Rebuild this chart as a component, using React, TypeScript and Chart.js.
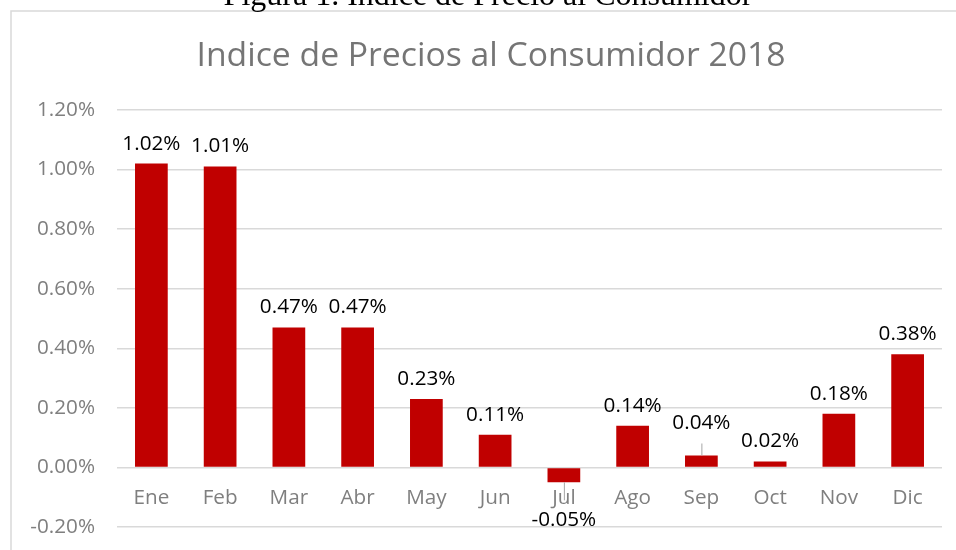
import React, { useEffect, useRef } from "react";
import { Chart, registerables } from "chart.js";

Chart.register(...registerables);

const figureCaption = "Figura 1. Indice de Precio al Consumidor";
const chartTitle = "Indice de Precios al Consumidor 2018";
const months = ["Ene", "Feb", "Mar", "Abr", "May", "Jun", "Jul", "Ago", "Sep", "Oct", "Nov", "Dic"];
const ipc = [1.02, 1.01, 0.47, 0.47, 0.23, 0.11, -0.05, 0.14, 0.04, 0.02, 0.18, 0.38];
const yTicks = [-0.2, 0, 0.2, 0.4, 0.6, 0.8, 1.0, 1.2];

const FONT = '"Open Sans", "Liberation Sans", sans-serif';
const LABEL_SIZE = 20.7;
const fmtPct = (v: number) => v.toFixed(2) + "%";

const decorPlugin = {
  id: "decor",
  beforeDraw(chart: any) {
    const ctx = chart.ctx;
    ctx.save();
    ctx.fillStyle = "#ffffff";
    ctx.fillRect(0, 0, chart.width, chart.height);
    ctx.strokeStyle = "#d9d9d9";
    ctx.lineWidth = 1.5;
    ctx.strokeRect(11, 11, chart.width + 20, chart.height + 20);
    ctx.fillStyle = "#000000";
    ctx.font = '32px "Liberation Serif", "Times New Roman", serif';
    ctx.textAlign = "center";
    ctx.textBaseline = "alphabetic";
    ctx.fillText(figureCaption, 488, 5);
    ctx.fillStyle = "#757575";
    ctx.font = "33.7px " + FONT;
    ctx.textBaseline = "middle";
    ctx.fillText(chartTitle, 491, 56);
    ctx.restore();
  },
  afterDatasetsDraw(chart: any, _args: any, opts: any) {
    const ctx = chart.ctx;
    const xs = chart.scales.x;
    const ys = chart.scales.y;
    const zeroY = ys.getPixelForValue(0);
    ctx.save();
    // category labels next to the zero line
    ctx.font = LABEL_SIZE + "px " + FONT;
    ctx.fillStyle = "#7f7f7f";
    ctx.textAlign = "center";
    ctx.textBaseline = "middle";
    months.forEach((m, i) => {
      ctx.fillText(m, xs.getPixelForValue(i), zeroY + 31);
    });
    // data labels
    const meta = chart.getDatasetMeta(0);
    const leaders = (opts && opts.leaders) || {};
    ctx.fillStyle = "#000000";
    meta.data.forEach((bar: any, i: number) => {
      const v = ipc[i];
      const extra = leaders[months[i]] || 0;
      const dir = v >= 0 ? -1 : 1;
      const cy = bar.y + dir * (20 + extra);
      ctx.fillText(fmtPct(v), bar.x, cy);
      if (extra) {
        ctx.strokeStyle = "#a6a6a6";
        ctx.lineWidth = 1;
        ctx.beginPath();
        ctx.moveTo(bar.x + 0.5, bar.y);
        ctx.lineTo(bar.x + 0.5, bar.y + dir * extra);
        ctx.stroke();
      }
    });
    ctx.restore();
  },
};

export default function App() {
  const ref = useRef<HTMLCanvasElement | null>(null);

  useEffect(() => {
    let chart: Chart | null = null;
    let cancelled = false;
    const make = () => {
      if (cancelled || !ref.current) return;
      chart = new Chart(ref.current, {
        type: "bar",
        data: {
          labels: months,
          datasets: [
            {
              data: ipc,
              backgroundColor: "#c00000",
              borderWidth: 0,
              barPercentage: 0.476,
              categoryPercentage: 1,
            },
          ],
        },
        options: {
          responsive: false,
          animation: false,
          devicePixelRatio: 1,
          layout: { padding: { left: 0, right: 14, top: 110, bottom: 23 } },
          plugins: {
            legend: { display: false },
            title: { display: false },
            tooltip: { enabled: false },
            decor: { leaders: { Sep: 12, Jul: 18 } },
          } as any,
          scales: {
            x: { display: false },
            y: {
              min: yTicks[0],
              max: yTicks[yTicks.length - 1],
              afterBuildTicks: (s: any) => {
                s.ticks = yTicks.map((v) => ({ value: v }));
              },
              afterFit: (s: any) => {
                s.width = 117;
                s.paddingTop = 0;
                s.paddingBottom = 0;
              },
              border: { display: false },
              grid: { color: "#d9d9d9", lineWidth: 1.5, drawTicks: false },
              ticks: {
                padding: 22,
                color: "#7f7f7f",
                font: { family: FONT, size: LABEL_SIZE },
                callback: (v: any) => fmtPct(Number(v)),
              },
            },
          },
        },
        plugins: [decorPlugin],
      });
    };
    const fonts: any = (document as any).fonts;
    if (fonts && fonts.load) {
      Promise.all([
        fonts.load('20px "Open Sans"'),
        fonts.load('32px "Liberation Serif"'),
      ]).then(make, make);
    } else make();
    return () => {
      cancelled = true;
      if (chart) chart.destroy();
    };
  }, []);

  return (
    <div style={{ position: "fixed", left: 0, top: 0, width: 956, height: 550, background: "#fff" }}>
      <canvas ref={ref} width={956} height={550} style={{ display: "block" }} />
    </div>
  );
}
